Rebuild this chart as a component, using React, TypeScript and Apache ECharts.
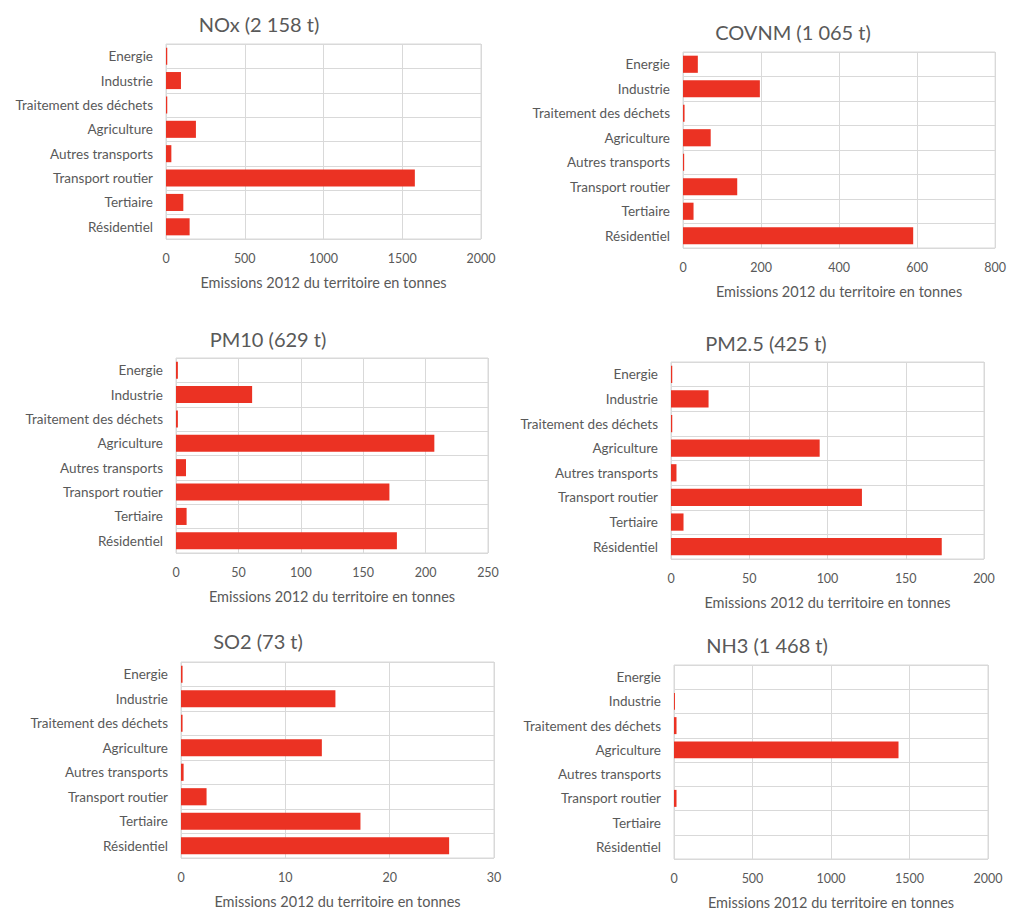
import React, { useEffect, useRef } from "react";
import * as echarts from "echarts";

const categories = [
  "Energie",
  "Industrie",
  "Traitement des déchets",
  "Agriculture",
  "Autres transports",
  "Transport routier",
  "Tertiaire",
  "Résidentiel",
];
const noxValues = [8, 95, 8, 190, 34, 1580, 110, 150];
const covnmValues = [38, 197, 4, 71, 3, 139, 27, 590];
const pm10Values = [1.5, 61, 1.5, 207, 8, 171, 8.5, 177];
const pm25Values = [0.8, 24, 0.8, 95, 3.5, 122, 8, 173];
const so2Values = [0.15, 14.8, 0.15, 13.5, 0.25, 2.45, 17.2, 25.7];
const nh3Values = [0, 6, 16, 1430, 0, 16, 0, 0];

const chartTitles = [
  "NOx (2 158 t)",
  "COVNM (1 065 t)",
  "PM10 (629 t)",
  "PM2.5 (425 t)",
  "SO2 (73 t)",
  "NH3 (1 468 t)",
];
const axisMax = [2000, 800, 250, 200, 30, 2000];
const axisInterval = [500, 200, 50, 50, 10, 500];
const axisTitle = "Emissions 2012 du territoire en tonnes";
const seriesValues = [noxValues, covnmValues, pm10Values, pm25Values, so2Values, nh3Values];

// layout: plot rectangles [left, top, width, height] and title centres
const grids = [
  [166, 44, 315, 195],
  [683, 52, 314, 196],
  [176, 358, 312, 195],
  [671, 362, 313, 197],
  [181, 662, 313, 196],
  [674, 665, 314, 196],
];
const titlePos = [
  [259, 27],
  [793, 35],
  [268, 342],
  [766, 346],
  [258, 644],
  [767, 648],
];

const TEXT = "#595959";
const GRIDLINE = "#d9d9d9";
const BAR = "#EB3223";
const FONT = "Lato, 'Open Sans', sans-serif";

export default function App() {
  const ref = useRef<HTMLDivElement>(null);
  useEffect(() => {
    if (!ref.current) return;
    const chart = echarts.init(ref.current, undefined, { renderer: "svg" });
    const option: any = {
      animation: false,
      backgroundColor: "#ffffff",
      textStyle: { fontFamily: FONT },
      title: chartTitles.map((t, i) => ({
        text: t,
        left: titlePos[i][0],
        top: titlePos[i][1] - 13,
        textAlign: "center",
        padding: 0,
        textStyle: { fontSize: 20, fontWeight: "normal", color: TEXT, fontFamily: FONT },
      })),
      grid: grids.map((g) => ({
        left: g[0],
        top: g[1],
        width: g[2],
        height: g[3],
        show: true,
        borderColor: GRIDLINE,
        borderWidth: 1,
        containLabel: false,
      })),
      xAxis: grids.map((_, i) => ({
        type: "value",
        gridIndex: i,
        min: 0,
        max: axisMax[i],
        interval: axisInterval[i],
        name: axisTitle,
        nameLocation: "middle",
        nameGap: 36,
        nameTextStyle: { fontSize: 14.5, color: TEXT, fontFamily: FONT },
        axisLine: { show: false },
        axisTick: { show: false },
        axisLabel: {
          fontSize: 12.5,
          color: TEXT,
          margin: 13,
          fontFamily: FONT,
          formatter: (v: number) => String(v),
        },
        splitLine: { show: true, lineStyle: { color: GRIDLINE, width: 1 } },
      })),
      yAxis: grids.map((_, i) => ({
        type: "category",
        gridIndex: i,
        data: categories,
        inverse: true,
        axisLine: { show: false },
        axisTick: { show: false },
        axisLabel: { fontSize: 13.5, color: TEXT, margin: 13, fontFamily: FONT },
        splitLine: { show: true, lineStyle: { color: GRIDLINE, width: 1 } },
      })),
      series: seriesValues.map((vals, i) => ({
        type: "bar",
        xAxisIndex: i,
        yAxisIndex: i,
        data: vals,
        barCategoryGap: "30%",
        itemStyle: { color: BAR },
      })),
    };
    chart.setOption(option);
    return () => chart.dispose();
  }, []);
  return (
    <div
      ref={ref}
      style={{ position: "fixed", left: 0, top: 0, width: 1009, height: 911 }}
    />
  );
}
